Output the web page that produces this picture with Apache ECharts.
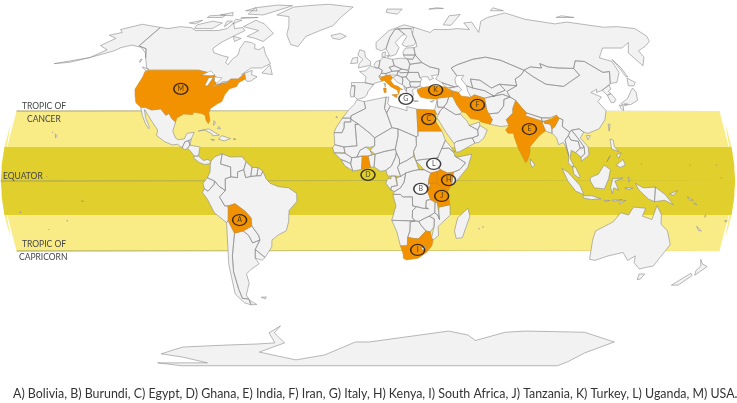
<!DOCTYPE html>
<html><head><meta charset="utf-8">
<style>html,body{margin:0;padding:0;background:#fff}#c{width:737px;height:403px}</style>
<script src="https://cdn.jsdelivr.net/npm/echarts@6/dist/echarts.min.js"></script>
</head><body><div id="c"></div>
<script>
// Robinson projection table (every 5 degrees of latitude)
const robinsonWidth=[1,.9986,.9954,.99,.9822,.973,.96,.9427,.9216,.8962,.8679,.835,.7986,.7597,.7186,.6732,.6213,.5722,.5322];
const robinsonHeight=[0,.062,.124,.186,.248,.31,.372,.434,.4958,.5571,.6176,.6769,.7346,.7903,.8435,.8936,.9394,.9761,1];
// Climate bands (degrees of latitude as drawn on the map)
const outerBandLat=30.85, innerBandLat=15, bandEdgeLats=[0,5,10,15,20,25,30.85];
const caption="A) Bolivia, B) Burundi, C) Egypt, D) Ghana, E) India, F) Iran, G) Italy, H) Kenya, I) South Africa, J) Tanzania, K) Turkey, L) Uganda, M) USA.";
// Marker letters and places
const markerLetters=['A','B','C','D','E','F','G','H','I','J','K','L','M'];
const markerLon=[-63.8,25.9,30.8,0,81,56.6,19.8,39.5,25.4,36.2,36,32.3,-99.9];
const markerLat=[-17.2,-3.5,27.3,2.7,22.9,33.5,36.2,0.4,-30.4,-6.6,40.1,7.5,40.6];
const offMapLetters=['B','G','L'];
// Highlighted countries
const highlighted=[
/*USA*/[[-123,49],[-95,49],[-89.5,48],[-84.5,46.5],[-82.5,45.3],[-82.5,42.5],[-79,43],[-76,44],[-75,45],[-71,45],[-70,46],[-68.5,47.3],[-67,45],[-70,43.5],[-70.5,41.7],[-74,40.6],[-75.5,38],[-76,35],[-78,34],[-81,32],[-81.3,30],[-80,26.8],[-80.5,25.2],[-82,26.8],[-83,29],[-85,29.7],[-89,30.3],[-89.5,29.2],[-94,29.5],[-97,27.8],[-97.2,26],[-99.5,27.5],[-101.5,29.8],[-103,29],[-106.5,31.8],[-111,31.3],[-114.8,32.5],[-117.1,32.5],[-120.5,34.5],[-122.5,37.5],[-124.3,40.5],[-124,46],[-124.7,48.4]],
/*Bolivia*/[[-69,-11],[-65.5,-10],[-60.5,-13.5],[-58,-16.3],[-58,-19.8],[-62.5,-22],[-67,-23],[-69.5,-17.5],[-69,-12.5]],
/*Egypt*/[[25,31.7],[34.2,31.3],[34.9,29.5],[33.5,28],[32.5,29.8],[33.8,27],[37,22],[25,22]],
/*Ghana*/[[-3.2,5.1],[1.2,6],[0,11],[-2.8,11]],
/*Kenya*/[[34,4.2],[35.5,5],[39,3.5],[41.9,3.9],[41,-1.6],[39.2,-4.6],[34,-1],[33.9,0]],
/*Uganda*/[[30.8,3.5],[34,4.2],[33.9,0],[34,-1],[30.5,-1],[29.6,-1.4],[29.9,1]],
/*Tanzania*/[[34,-1],[39.2,-4.6],[39.5,-6.5],[40.4,-10.5],[35,-11.5],[34,-9.5],[30.8,-8.2],[29.4,-5],[30.5,-2.5],[30.5,-1]],
/*Burundi*/[[29,-2.8],[30.5,-2.5],[30.5,-4],[29.4,-4.4]],
/*South Africa*/[[16.5,-28.6],[20,-28.5],[20,-24.8],[22.8,-25.3],[25.5,-25.5],[29,-22],[31.3,-22.4],[32,-25],[32.9,-26],[32.5,-28.5],[30,-31.5],[26,-34],[20,-34.8],[18.3,-34],[18,-32]],
/*Turkey*/[[26,40],[29,41.2],[35,42],[41.5,41.5],[44.7,39.7],[44.5,37.2],[36.5,36.5],[36,36],[30.5,36.4],[27.5,37],[26.3,39]],
/*Iran*/[[44.7,39.7],[48,39],[49,37.5],[54,36.9],[56,38],[61,36.5],[60.9,31.5],[63,27],[61.5,25],[57,26],[56,27],[52,27.5],[50,30],[48,30.5],[46,33.5],[44.5,37.2]],
/*India*/[[74.5,32],[77,35.5],[79,32.5],[81,30],[80,28.7],[88,26.3],[88,25],[89,22],[87,21],[85,19.5],[81.5,16.3],[80.2,15],[80,12.5],[78.5,9],[77.5,8],[76,11],[74.5,14],[73,19],[72.7,21],[70,21],[69,22.5],[71,24.5],[70,27],[74,30]],
/*India NE*/[[89,26.3],[92,27],[96,29],[97,27.7],[94,24],[92.3,23],[92,25],[89,25.5]],
/*Italy*/[[7.5,44],[6.5,45.5],[8,46],[10,46.5],[12,46.8],[13.7,45.7],[12.3,44.3],[14,42.3],[16,41.8],[18.5,40.2],[17,40.5],[16.5,39],[16,38],[15.7,40],[12.5,41.5],[10.5,43],[8.8,44.4]],
/*Sicily*/[[12.5,38],[15.5,38.2],[15,36.7]],
/*Sardinia*/[[8.3,41],[9.7,41],[9.6,39],[8.5,39]]
];
// Grey land by continent
const northAmerica=[
[[-141,69.6],[-135,69],[-128,70],[-120,69.5],[-115,68],[-108,68],[-100,68],[-95,69],[-94,72],[-90,69],[-85,69.5],[-82,68],[-87,65],[-92,62],[-94.5,59],[-92,57],[-85,55.5],[-82,55],[-82,52.5],[-80,51.5],[-79,54],[-77,56],[-78,59],[-77.5,62.5],[-73,62],[-70,61],[-69,59],[-66,58.5],[-64,60],[-61,56.5],[-57,53],[-56,52],[-60,50],[-66,50],[-70,47],[-65,49],[-64.5,47],[-61,46],[-64,44],[-66,44],[-67,45],[-68.5,47.3],[-70,46],[-71,45],[-75,45],[-76,44],[-79,43],[-82.5,42.5],[-82.5,45.3],[-84.5,46.5],[-89.5,48],[-95,49],[-123,49],[-125,50],[-130,54.5],[-135,59],[-141,60.3]],
[[-141,69.6],[-141,60.3],[-135,59],[-130,54.5],[-133,57],[-139,59.7],[-146,60.7],[-151,59.5],[-153,58],[-163,54.8],[-158,58.5],[-165,60.5],[-161,64],[-168,65.6],[-162,67],[-166,68.5],[-156.5,71.3]],
[[-163,54.8],[-180,52],[-172,52.6]],
[[-117.1,32.5],[-114.8,32.5],[-111,31.3],[-106.5,31.8],[-103,29],[-101.5,29.8],[-99.5,27.5],[-97.2,26],[-97.8,22],[-96,19],[-94.5,18.2],[-91.5,18.5],[-90.5,21],[-87,21.5],[-88,18.5],[-89,17.8],[-91,17.3],[-92,14.6],[-94.5,16.2],[-97,15.9],[-101,17.3],[-105.5,20],[-105.5,22.5],[-109,26],[-112.5,29.5],[-114.7,31.5],[-113,28],[-110,24],[-110,23],[-112,25],[-115,29]],
[[-92,14.6],[-91,17.3],[-89.2,17.8],[-88.3,15.8],[-89.3,14.4],[-90.5,13.8]],
[[-89.2,17.8],[-88,18.5],[-88.3,15.8]],
[[-88.3,15.8],[-83.2,15],[-83.6,11],[-85.7,11],[-87.5,13],[-89.3,14.4]],
[[-85.7,11],[-83.6,11],[-81,9],[-79,9.5],[-77.3,8.7],[-78.2,7.5],[-80.5,7.3],[-83,8.2],[-85.7,10]],
[[-85,22],[-80,23],[-74.2,20.2],[-77.5,19.9],[-78,20.8],[-82,22.5]],
[[-74.4,18.4],[-73,20],[-68.5,18.7],[-71.5,17.7]],[[-78.3,18.4],[-76.3,18.2],[-77,17.8]],[[-67.2,18.5],[-65.7,18.4],[-66,18]],[[-78,26.5],[-77,26],[-77.7,24.5]],[[-75,24],[-74,23],[-75.5,23]],
[[-156.3,20.8],[-155,19.8],[-155.7,19]],[[-158.2,21.6],[-157.7,21.4],[-158,21.2]],
[[-128,50.5],[-124,48.5],[-123.5,49.5]],[[-59,47.7],[-53,47],[-56,51.5]],
[[-132.5,54],[-131.5,54],[-131.5,52.5]],
[[-80,73.5],[-72,71.5],[-62,66.5],[-66,62.5],[-72,64],[-78,65],[-73,68],[-85,70]],
[[-117,69],[-105,69],[-102,72],[-110,73],[-118,71]],[[-125,72],[-118,73.5],[-120,71.5]],
[[-90,77],[-78,76.5],[-62,82.5],[-75,83],[-90,81]],[[-92,75],[-80,75],[-80,74.5],[-92,74.5]],
[[-117,75],[-106,75],[-106,76.5],[-117,76]],[[-95,79],[-86,79],[-90,81]],[[-95,74],[-90,73.5],[-94,71.5]],
[[-87,65],[-81,64],[-84,62.5]],[[-100,73],[-96,73],[-98,70]],[[-110,76.5],[-100,76],[-103,78]],
[[-68,76.5],[-60,81.5],[-50,82.5],[-33,83.6],[-12,81.5],[-20,75],[-24,70.5],[-32,68],[-40,65],[-43,60],[-48,61],[-53,66],[-54,70],[-58,75.5]]
];
const southAmerica=[
[[-77.3,8.7],[-75.5,10.7],[-72,12],[-72.5,7.5],[-67.5,6.2],[-67.3,1.8],[-70,1],[-70,-4.2],[-73,-2.4],[-75.2,0],[-78.8,1.4],[-77.5,4],[-77.5,7]],
[[-72,12],[-68,10.6],[-62,10.7],[-60,8.5],[-61,5],[-64,4],[-64,1.5],[-67.3,1.8],[-67.5,6.2],[-72.5,7.5]],
[[-60,8.5],[-57,6],[-57.5,2],[-60,1.5],[-61,5]],[[-57,6],[-54,5.9],[-54.5,2.3],[-57.5,2]],[[-54,5.9],[-51.6,4.3],[-52.6,2.3],[-54.5,2.3]],
[[-78.8,1.4],[-75.2,0],[-75.5,-1.5],[-78.5,-4.5],[-80.3,-3.4],[-80.9,-1]],
[[-75.2,0],[-73,-2.4],[-70,-4.2],[-73,-7],[-70.6,-11],[-69,-11],[-69,-12.5],[-69.5,-17.5],[-70.4,-18.3],[-76,-14],[-79,-8],[-81.3,-5],[-80.3,-3.4],[-78.5,-4.5],[-75.5,-1.5]],
[[-62.5,-22],[-58,-19.8],[-55,-24],[-54.6,-26],[-58.5,-27.3],[-60,-24]],
[[-70.4,-18.3],[-69.5,-17.5],[-67,-23],[-70,-33],[-71.5,-40],[-72,-48],[-72,-52],[-68.5,-52.3],[-68.6,-55],[-72,-54],[-75,-50],[-73.5,-42],[-73,-37],[-71.5,-30]],
[[-67,-23],[-62.5,-22],[-60,-24],[-58.5,-27.3],[-54.6,-26],[-57.6,-30.2],[-58.4,-34],[-57,-36.5],[-62,-39],[-65,-41],[-65,-45],[-69,-50.5],[-68.5,-52.3],[-72,-52],[-72,-48],[-71.5,-40],[-70,-33]],
[[-68.6,-52.7],[-65.2,-54.8],[-68.6,-55]],
[[-57.6,-30.2],[-53.3,-33.7],[-55,-34.9],[-58.4,-34]],
[[-51.6,4.3],[-50,1],[-48,-1],[-44,-2.5],[-39,-3],[-35,-5.5],[-35,-9],[-39,-13],[-39.5,-18],[-41,-22],[-45,-23.7],[-48.5,-26],[-49,-29],[-53.3,-33.7],[-57.6,-30.2],[-54.6,-26],[-55,-24],[-58,-19.8],[-58,-16.3],[-60.5,-13.5],[-65.5,-10],[-69,-11],[-70.6,-11],[-73,-7],[-70,-4.2],[-70,1],[-67.3,1.8],[-64,1.5],[-64,4],[-61,5],[-60,1.5],[-57.5,2],[-54.5,2.3],[-52.6,2.3]],
[[-61,-51.5],[-58,-51.3],[-59,-52.3]]
];
const africa=[
[[-5.9,35.8],[-2,35],[-1.2,32],[-8.7,28.7],[-8.7,27.7],[-13,27.7],[-9.8,31.5],[-7,33.8]],
[[-13,27.7],[-8.7,27.7],[-8.7,26],[-12,26],[-12,23.4],[-13,21.3],[-17,21.3],[-16,23.5]],
[[-17,21.3],[-13,21.3],[-12,23.4],[-12,26],[-8.7,26],[-8.7,27.3],[-4.8,25],[-6.5,25],[-5.5,15.5],[-12,15],[-16.5,16]],
[[-2,35],[9.5,37],[8.5,32],[9.5,30],[12,23.5],[3.3,19],[1,21],[-4.8,25],[-8.7,27.3],[-8.7,28.7],[-1.2,32]],
[[9.5,37],[11,37],[10.2,34],[11.5,33],[9.5,30],[8.5,32]],
[[11.5,33],[15,32.3],[20,31],[20,32.8],[25,31.7],[25,20],[24,19.5],[15,23],[12,23.5],[9.5,30]],
[[24,19.5],[25,20],[25,22],[37,22],[38.5,18],[36.5,14.3],[34.5,10.5],[33,10],[27,9.5],[23.5,9],[22.5,13],[24,15.7]],
[[23.5,9],[27,9.5],[33,10],[34.5,10.5],[33.5,8],[35.5,5],[34,4.2],[30.8,3.5],[27.5,5],[25,5]],
[[36.5,14.3],[38.5,18],[43,12.7],[40,14.5]],
[[36.5,14.3],[40,14.5],[42.5,12.3],[42.8,11],[48,8],[45,5],[41.9,3.9],[39,3.5],[35.5,5],[33.5,8],[34.5,10.5]],
[[42.8,11],[44,10.5],[51.2,11.8],[49,6],[42,-1.6],[41,-1.6],[41.9,3.9],[45,5],[48,8]],
[[29.6,-1.4],[30.5,-1],[30.5,-2.5],[29,-2.8]],
[[12.2,-5.8],[13.1,-4.6],[16,-3],[17.7,-0.5],[18.5,3.5],[22,4.5],[25,5],[27.5,5],[30.8,3.5],[29.9,1],[29.6,-1.4],[29,-2.8],[29.4,-4.4],[29.4,-5],[30.8,-8.2],[28.7,-8.5],[28.5,-11.7],[29.8,-12.2],[27,-12],[24,-11.3],[22,-11],[21.8,-7],[17,-7],[16,-5.9]],
[[11.2,-4],[13.1,-4.6],[16,-3],[17.7,-0.5],[18.5,3.5],[16,2],[14,1.4],[13.3,2.2],[14.4,-2],[11.5,-2.5]],
[[9.5,1],[11.3,1],[11.3,2.2],[13.3,2.2],[14,1.4],[14.4,-2],[11.5,-2.5],[11.2,-4],[8.8,-1]],
[[9.6,2.2],[11.3,2.2],[13.3,2.2],[16,2],[14.5,6],[15.5,7.5],[15.5,9.5],[14,12.5],[13.5,10.5],[11.5,6.6],[8.8,4.7]],
[[14.5,6],[16,2],[18.5,3.5],[22,4.5],[25,5],[27.5,5],[23.5,9],[22.5,11],[19,9],[15.5,7.5]],
[[14,12.5],[15.5,9.5],[15.5,7.5],[19,9],[22.5,11],[22.5,13],[24,15.7],[24,19.5],[15,23],[15,20],[13.5,14]],
[[3.3,19],[12,23.5],[15,23],[15,20],[13.5,14],[8,13],[3.5,11.8],[1,13.5],[3.3,15.5]],
[[3,6.3],[3.5,11.8],[8,13],[13.5,14],[14,12.5],[13.5,10.5],[11.5,6.6],[8.8,4.7],[6,4.3]],
[[1.2,6],[3,6.3],[3.5,11.8],[2,11.5],[0,11]],
[[-5.5,10.5],[-2.8,11],[0,11],[2,11.5],[1,13.5],[-1,15],[-4,13.5]],
[[-12,15],[-5.5,15.5],[-6.5,25],[-4.8,25],[1,21],[3.3,19],[3.3,15.5],[1,14.8],[-1,15],[-4,13.5],[-5.5,10.5],[-8,10.3],[-11.3,12.2]],
[[-16.5,16],[-12,15],[-11.3,12.4],[-16.7,12.4],[-17.5,14.7]],
[[-16.7,12.4],[-11.3,12.2],[-8,10.3],[-8.5,7.6],[-10.5,8.5],[-13.3,9.5]],
[[-13.3,9.5],[-10.5,8.5],[-8.5,7.6],[-7.5,4.4],[-11.5,6.8]],
[[-8.5,7.6],[-8,10.3],[-5.5,10.5],[-2.8,11],[-3.2,5.1],[-7.5,4.4]],
[[12.2,-6],[16,-5.9],[17,-7],[21.8,-7],[22,-11],[24,-11.3],[22,-13],[22,-16.2],[23.4,-17.6],[14,-17.4],[11.8,-17.3],[13.8,-11],[13,-8.5]],
[[22,-13],[24,-11.3],[27,-12],[29.8,-12.2],[28.5,-11.7],[28.7,-8.5],[30.8,-8.2],[33,-9.5],[33,-14],[30.3,-15.5],[28,-16.5],[25.3,-17.8],[23.4,-17.6],[22,-16.2]],
[[33,-9.5],[34,-9.5],[35,-14],[35.5,-17],[34.5,-15],[33,-14]],
[[35,-11.5],[40.4,-10.5],[40.7,-15],[35,-20],[35.5,-24],[32.9,-26],[32,-25],[33,-20],[32.9,-16.7],[30.3,-15.5],[33,-14],[34.5,-15],[35.5,-17],[35,-14]],
[[25.3,-17.8],[28,-16.5],[30.3,-15.5],[32.9,-16.7],[33,-20],[31.3,-22.4],[29,-22],[26,-19]],
[[21,-18],[23.4,-17.6],[25.3,-17.8],[26,-19],[29,-22],[25.5,-25.5],[22.8,-25.3],[20,-24.8],[21,-22]],
[[11.8,-17.3],[14,-17.4],[23.4,-17.6],[21,-18],[21,-22],[20,-24.8],[20,-28.5],[16.5,-28.6],[14.5,-22.5]],
[[49.3,-12],[50.5,-15.5],[47.5,-25],[44.5,-25.3],[43.3,-22],[44.5,-16.2]],
[[-16,28.5],[-15.5,28],[-16.3,28]],[[55.3,-20.9],[55.8,-21.1],[55.4,-21.3]],[[57.4,-20],[57.8,-20.3],[57.4,-20.5]]
];
const lesotho=[[[27.2,-29.6],[29,-28.8],[29.3,-30],[28,-30.5]]];
const europe=[
[[5,59],[5,62],[14,68],[25,71],[31,69.7],[29,69],[25,69],[18,68.5],[14,64.5],[12,61],[11,59],[8,58]],
[[11,59],[12,61],[14,64.5],[18,68.5],[20,69],[24,66],[22,65.5],[17,62],[19,59.5],[16.5,56.2],[13,55.4]],
[[20,69],[25,69],[29,69],[29,66],[30,62],[28,60.5],[23,60],[21,61],[25,65],[24,66]],
[[23,59.3],[28,59.5],[28,56],[21,56],[21,57.5]],[[21,56],[28,56],[26,54],[23,54.2],[21,55.3]],
[[23,54.2],[26,54],[28,56],[31,52.5],[24,51.7]],
[[24,51.7],[31,52.5],[35,50.5],[40,49.5],[39,47],[35,46.5],[36,45.3],[33.5,44.5],[33,46],[30,46],[28.5,45.5],[28,48],[22.5,48]],
[[14.2,54],[19,54.5],[23,54.2],[24,51.7],[22.5,49],[19,49.5],[15,51]],
[[7,53.5],[9,55],[14.2,54],[15,51],[12,50.3],[13.5,48.5],[10,47.5],[7.5,47.6],[8,49],[6,50]],
[[8.2,55],[8.5,57],[10.5,57.5],[10,55]],[[11,55.7],[12.5,56],[12,54.8]],
[[3.3,51.4],[4.7,53],[7,53.5],[6,50],[4.5,50]],
[[-1.7,43.4],[-1,46],[-4.7,48.4],[-1.5,48.7],[1.5,50.9],[4.5,50],[6,50],[8,49],[7.5,47.6],[6,46.2],[7.5,44],[3,43],[3,42.5]],
[[-9,43.5],[-1.7,43.4],[3,42.5],[0,39.5],[-0.5,38],[-2,36.8],[-5.5,36],[-7.3,37.2],[-7,42],[-8.8,42]],
[[-8.8,42],[-7,42],[-7.3,37.2],[-9,37],[-9.5,39]],
[[-5.5,50],[1.5,51.3],[1.5,53],[-1.5,55],[-2,57.7],[-5,58.5],[-6,56],[-3,54],[-5,52]],
[[-10,52],[-6,52.3],[-6,55],[-9,54.5]],
[[-24,65.5],[-18,66.5],[-14,65],[-18,63.5],[-22.5,64]],
[[6,46.2],[7.5,47.6],[10,47.5],[10,46.5],[8,46]],
[[10,47.5],[13.5,48.5],[17,48.7],[16,46.8],[12,46.8],[10,46.5]],
[[12,50.3],[15,51],[19,49.5],[17,48.7],[13.5,48.5]],
[[17,48.7],[19,49.5],[22.5,49],[22.5,48],[18,47.8]],
[[16,46.8],[17,48.7],[18,47.8],[22.5,48],[21,46],[18.5,45.8]],
[[21,46],[22.5,48],[28,48],[28.5,45.5],[29.5,45],[28.5,43.8],[23,43.8],[22,44.5]],
[[23,43.8],[28.5,43.8],[28,42],[26,41.3],[23,41.5],[22.5,43]],
[[13.7,45.7],[16,46.8],[18.8,45.9],[19,44.5],[18.5,42.5],[16,43.5],[14.5,45]],
[[18.8,45.9],[21,46],[22,44.5],[23,43.8],[22.5,43],[23,41.5],[20.5,41],[19.3,42],[18.5,42.5],[19,44.5]],
[[19.3,42],[20.5,41],[20.3,39.7],[19.4,40.5]],
[[20.3,39.7],[20.5,41],[23,41.5],[26,41.3],[23.5,40],[24,38],[23,36.5],[21.5,37],[21,38.5]],
[[23.6,35.5],[26.2,35.2],[24,35]],[[32.3,35],[34.5,35.6],[33.5,34.7]],[[8.6,43],[9.5,43],[9.3,41.5]],
[[26,41.3],[28,42],[29,41.2],[26.5,40.3]],
[[14,78],[22,77],[27,80],[15,80]],[[48,80],[60,80.5],[55,81]]
];
const asia=[
[[31,69.7],[41,67],[44,68.5],[54,68.5],[60,69],[68,68.5],[67,72],[73,72.5],[73,67],[80,73],[87,75],[104,77.7],[113,74],[130,71.5],[140,72.5],[160,69.7],[170,70],[180,69],[180,65],[177,62.5],[170,60],[163,58],[162,55],[156.5,51],[155.5,57],[163,62],[155,59.3],[143,59.3],[135.5,54.7],[141,53],[140,48],[135,43.5],[131,43],[135,48.4],[131,48],[125,53],[120,53.3],[116,49.8],[107,50],[102,50.5],[98.5,52],[98,50],[92,50.5],[87.5,49],[77,53.5],[69,55],[61,54],[51,51.5],[47,50],[49,46.5],[47.5,45],[47.5,42.5],[48.5,41.8],[46.5,41.5],[40,43.4],[37,45],[39,47],[40,49.5],[35,50.5],[31,52.5],[28,56],[28,59.5],[30,60],[30,62],[29,66]],
[[52,71],[57,70.7],[69,76.8],[60,76]],[[95,79],[105,79],[100,81]],[[137,75],[150,75],[143,76]],[[142,54],[143,50],[143,46],[142,46],[142,51]],
[[44.5,37.2],[46,33.5],[48,30.5],[47,29.5],[44.7,29.2],[39,32.5],[41,34.5],[42.5,37.3]],
[[36.5,36.5],[42.5,37.3],[41,34.5],[39,32.5],[36,32.5],[36,35.5]],
[[34.2,31.3],[36,35.5],[36,32.5],[39,32.5],[37,31],[36,29.4],[34.9,29.5]],
[[36,29.4],[37,31],[39,32.5],[44.7,29.2],[47,29.5],[48.5,28],[50,26.5],[51,24.5],[55,22.5],[55,20],[52,19],[49,18.6],[44,17.4],[42.7,16.5],[39,21.5],[35,28]],
[[42.7,16.5],[44,17.4],[49,18.6],[52,19],[53,16.7],[45,12.8],[43.4,12.7]],
[[52,19],[55,20],[55,22.5],[56.3,24.5],[59.8,22.5],[57.8,19],[55,17],[53,16.7]],
[[51,24.5],[56.3,26],[56.3,24.5],[55,22.5]],
[[61,36.5],[65,37.3],[71,38.2],[74.5,37],[71,36],[70,33],[66.5,30],[61,29.5],[60.9,31.5]],
[[61,29.5],[66.5,30],[70,33],[71,36],[74.5,37],[77,35.5],[74.5,32],[74,30],[70,27],[71,24.5],[67,24],[61.5,25],[63,27]],
[[80,28.7],[81,30],[88,27.8],[88,26.3]],[[88,27.8],[92,27.8],[92,27],[89,26.3],[88,26.3]],
[[88,25],[88,26.3],[89,26.3],[89,25.5],[92,25],[92.3,23],[92,21],[89,22]],
[[80,9.7],[82,7],[80.6,6],[79.8,8]],
[[92,21],[92.3,23],[94,24],[97,27.7],[98.7,27],[97.7,24],[101,21.5],[100,20],[98,18],[99,11],[98,15],[97,17],[94.5,16],[94,19]],
[[98,18],[100,20],[101,18],[104.5,17.5],[105,14.5],[102.5,12.5],[100.5,13.5],[99.5,10],[101,7],[100.5,6],[98.5,8],[99,11]],
[[100,20],[101,21.5],[102,22.4],[104.5,19],[107,15],[105.5,14],[105,14.5],[104.5,17.5],[101,18]],
[[102,22.4],[106,23],[108,21.5],[105.8,19],[109,15],[109,11.5],[105,8.7],[105,10.5],[107,12],[107,15],[104.5,19]],
[[102.5,12.5],[105,14.5],[107,15],[107,12],[105,10.5]],
[[100.5,6.5],[102,6],[104,2],[103.5,1.3],[101,3]],
[[109,1.5],[113,3],[116,7],[119,5],[118,1],[116,-3.5],[111,-3],[109,0]],
[[95.3,5.5],[98,4],[104,-2],[106,-6],[102,-4.5],[98,0]],
[[105.5,-6.5],[110,-6.5],[114.5,-7.8],[110,-8.2],[106,-7.5]],
[[120,1],[125,1.3],[121,0],[123,-4],[120.5,-3],[120,-5.5],[119,-3]],
[[127.5,1.8],[128.5,1],[128,-0.5]],[[126,-3],[130,-3],[128,-3.8]],[[116,-8.5],[119,-8.6],[117,-9]],[[120,-8.5],[125,-8.2],[121,-9]],[[124,-9.3],[127,-8.4],[124,-10.2]],
[[131,-1],[135,-3],[141,-2.7],[141,-9.1],[138,-8],[133,-4]],
[[141,-2.7],[146,-6],[150.5,-10.5],[146,-8.5],[141,-9.1]],[[148,-5.7],[152,-4.2],[150,-6.3]],
[[120.5,18.5],[122,18],[122,15],[124,13],[120.5,14]],[[122,7],[125.5,9.5],[126.5,7],[124,6]],[[122.5,11.5],[125,12.5],[123.5,10]],[[117.5,8.5],[119.5,11.2],[118,9.2]],
[[121,25],[122,25],[120.8,22]],[[109,20],[111,20],[109.5,18.2]],
[[131,34],[136,36.5],[140,40],[141.5,41],[142,39],[140.5,35.5],[136,33.7],[132,33.5]],[[140,42],[142,45.4],[145,43.5],[143,42]],[[130,33.5],[131.8,33],[131,31],[130,32]],[[132.5,34],[134.5,34],[133,33]],
[[124.5,40],[130,42.5],[129.5,40.5],[127.5,39.5],[128.4,38.5],[126,37.8]],[[126,37.8],[128.4,38.5],[129.4,36],[128,34.7],[126.3,34.5]],
[[73.7,39.5],[80,42],[80.5,45],[85,47],[87.5,49],[91,46],[96,42.7],[105,41.7],[111.5,44.5],[117,46.7],[116,49.8],[120,53.3],[125,53],[131,48],[135,48.4],[131,43],[130.5,42.5],[124.5,40],[121,39],[122,40.5],[118,39],[122.5,37],[119.5,35],[122,31],[120,27],[116,23],[110,21],[108,21.5],[106,23],[102,22.4],[101,21.5],[97.7,24],[98.7,27],[97,27.7],[96,29],[92,27.8],[88.2,27.9],[81,30],[79,32.5],[77,35.5],[74.5,37]],
[[87.5,49],[92,50.5],[98,50],[98.5,52],[102,50.5],[107,50],[116,49.8],[117,46.7],[111.5,44.5],[105,41.7],[96,42.7],[91,46]],
[[47,50],[51,51.5],[61,54],[69,55],[77,53.5],[87.5,49],[85,47],[80.5,45],[80,42],[71,42.7],[66,41],[61,44.5],[56,45],[56,41],[53,42],[51,45],[53,46.7],[49,46.5]],
[[56,45],[61,44.5],[66,41],[71,42.7],[73,40],[68,38.5],[66.5,37.3],[62,39.8],[56,41]],
[[53,42],[56,41],[62,39.8],[66.5,37.3],[65,37.3],[61,36.5],[56,38],[54,36.9],[53,39.5]],
[[71,42.7],[80,42],[73.7,39.5],[74.5,37],[71,38.2],[65,37.3],[66.5,37.3],[68,38.5],[73,40]],
[[41.5,41.5],[40,43.4],[46.5,41.5],[43.5,41.1]],[[43.5,41.1],[46.5,41.5],[48.5,41.8],[50,40.3],[48,39],[44.7,39.7]]
];
const oceania=[
[[114,-22],[113.5,-26],[115,-34.5],[118,-35],[124,-33],[131,-31.5],[135,-35],[138,-33],[139,-36],[143.5,-38.8],[147,-38],[150,-37.5],[153.5,-28],[150,-22],[146,-19],[145.3,-15],[142.5,-10.8],[141,-17],[136,-15.5],[137,-12],[131,-11.5],[129,-15],[125,-14],[122,-18]],
[[145,-41],[148,-41],[147.5,-43.3],[146,-43.5]],
[[172.7,-34.5],[175,-36.5],[178.5,-37.7],[175.3,-41.6],[174,-39.5],[175,-37.5]],
[[172.5,-40.7],[174,-41.7],[170.7,-46],[167,-46],[171,-42]],
[[164,-20],[167,-22],[165.5,-21.8]],[[177.3,-17.5],[178.6,-17.5],[178,-18.2]],[[167,-15],[167.5,-15.5],[167,-16]],[[157,-7],[160,-8.5],[158,-8.3]],[[160.5,-9.5],[162,-10.5],[160.5,-10]],
[[-149.8,-17.5],[-149.2,-17.6],[-149.5,-18]],[[-172,-13.5],[-171.5,-13.8],[-172.3,-14]],[[-141,-8.8],[-140,-9],[-140.5,-9.4]],[[-159.8,-21.2],[-159.6,-21.2],[-159.7,-21.5]],[[173,1.5],[173.4,1.3],[173,1.1]],[[171,7.1],[171.4,7],[171.1,6.9]],[[158,7],[158.4,6.9],[158.1,6.7]],[[134.3,7.5],[134.7,7.4],[134.5,7.2]],[[-157.5,2],[-157.2,1.9],[-157.4,1.7]]
];
const antarctica=[[[-165,-80.7],[-149,-78.2],[-138,-76.5],[-118,-75.8],[-103,-75.3],[-80,-74.7],[-67,-74.1],[-66.5,-68.7],[-56.5,-65.1],[-63,-68.7],[-60,-74.1],[-85,-79.5],[-62,-85.3],[-35,-81.5],[-9,-73.6],[1,-73.6],[53.6,-67.8],[68,-69.8],[76,-72.8],[92,-68.4],[105,-67.8],[145,-68.4],[176,-73.6],[171,-80],[177,-87.3],[180,-92],[-177,-92],[-190,-88.7],[-145,-88.7],[-154,-83]]];
const lakes=[[[-92,46.8],[-88,48.7],[-84.7,46.8],[-87,46.5]],[[-87.8,42],[-86.3,42],[-85,45.8],[-87.5,45.5]],[[-84.5,46],[-80,45.5],[-81.8,43.2],[-83.5,44]],[[-83.3,41.7],[-79,42.8],[-79.3,43],[-83,42.2]],[[-79.7,43.3],[-76.3,43.5],[-76.5,44],[-79.5,43.8]]];

// ---------- projection
function tableAt(t,absLat){const p=absLat/5,i=Math.min(Math.floor(p),t.length-2);return t[i]+(t[i+1]-t[i])*(p-i);}
const pxPerLon=2.04,centreX=368,equatorY=181,pxPerRow=183;
function project(c){const a=Math.abs(c[1]),s=c[1]<0?-1:1;
  return [centreX+pxPerLon*c[0]*Math.min(1,tableAt(robinsonWidth,a)),equatorY-s*pxPerRow*tableAt(robinsonHeight,a)];}
function unproject(p){const y=(equatorY-p[1])/pxPerRow,a=Math.abs(y);let i=0;while(i<robinsonHeight.length-2&&robinsonHeight[i+1]<a)i++;
  const lat=(i+(a-robinsonHeight[i])/(robinsonHeight[i+1]-robinsonHeight[i]))*5;
  return [(p[0]-centreX)/(pxPerLon*tableAt(robinsonWidth,lat)),y<0?-lat:lat];}

function strip(a,b){ // band between latitudes a (north) and b (south)
  const lats=[a,...bandEdgeLats.filter(l=>l<a&&l>0),0,...bandEdgeLats.filter(l=>l<-b&&l>0).reverse().map(l=>-l),b].filter((v,i,r)=>r.indexOf(v)===i);
  const ring=[];lats.forEach(l=>ring.push([180,l]));lats.slice().reverse().forEach(l=>ring.push([-180,l]));return ring;}
function line(lat){return [[-180,lat+.2],[180,lat+.2],[180,lat-.2],[-180,lat-.2]];}
const layers=[
 ['outerBand',[strip(outerBandLat,-outerBandLat)],'#f9ec87','#f9ec87',0],
 ['innerBand',[strip(innerBandLat,-innerBandLat)],'#e0cf2d','#e0cf2d',0],
 ['lines',[line(outerBandLat),line(0),line(-outerBandLat)],'#a39d5c','#a39d5c',0],
 ['land',[...northAmerica,...southAmerica,...africa,...europe,...asia,...oceania,...antarctica],'#f2f2f2','#8a8a8a',.6],
 ['highlight',highlighted,'#f39200','#c58a35',.5],
 ['lesothoTop',lesotho,'#f2f2f2','#8a8a8a',.6],
 ['lakes',lakes,'#ffffff','#8a8a8a',.5]
];
const geojson={type:'FeatureCollection',features:layers.map(l=>({type:'Feature',properties:{name:l[0]},geometry:{type:'MultiPolygon',coordinates:l[1].map(r=>[r.concat([r[0]])])}}))};
echarts.registerMap('world',geojson);
let x0=1e9,x1=-1e9,y0=1e9,y1=-1e9;
layers.forEach(l=>l[1].forEach(r=>r.forEach(c=>{const p=project(c);x0=Math.min(x0,p[0]);x1=Math.max(x1,p[0]);y0=Math.min(y0,p[1]);y1=Math.max(y1,p[1]);})));

const labelFont='Lato, "Open Sans", sans-serif';
const bandLabel=(text,left,top)=>({type:'text',left,top,z:100,style:{text,font:'8.5px '+labelFont,fill:'#444'}});
const chart=echarts.init(document.getElementById('c'),null,{renderer:'canvas'});
chart.setOption({
 animation:false,backgroundColor:'#fff',
 title:{text:caption,left:13,top:388,textStyle:{fontFamily:labelFont,fontSize:12.4,fontWeight:'normal',color:'#333'},padding:0},
 geo:{map:'world',silent:true,roam:false,projection:{project,unproject},left:x0,top:y0,width:x1-x0,height:y1-y0,label:{show:false},
  regions:layers.map(l=>({name:l[0],itemStyle:{areaColor:l[2],borderColor:l[3],borderWidth:l[4]}}))},
 graphic:[bandLabel('TROPIC OF',22,102),bandLabel('CANCER',27,115),bandLabel('EQUATOR',3,172),bandLabel('TROPIC OF',22,240),bandLabel('CAPRICORN',19,253)],
 series:[{type:'scatter',coordinateSystem:'geo',symbol:'circle',symbolSize:[14,11],silent:true,z:5,
  data:markerLetters.map((n,i)=>({name:n,value:[markerLon[i],markerLat[i]],itemStyle:{color:offMapLetters.includes(n)?'#fff':'rgba(0,0,0,0)',borderColor:'#111',borderWidth:1.4}})),
  label:{show:true,position:'inside',formatter:'{b}',fontSize:7,fontFamily:labelFont,color:'#222'}}]
});
</script></body></html>
